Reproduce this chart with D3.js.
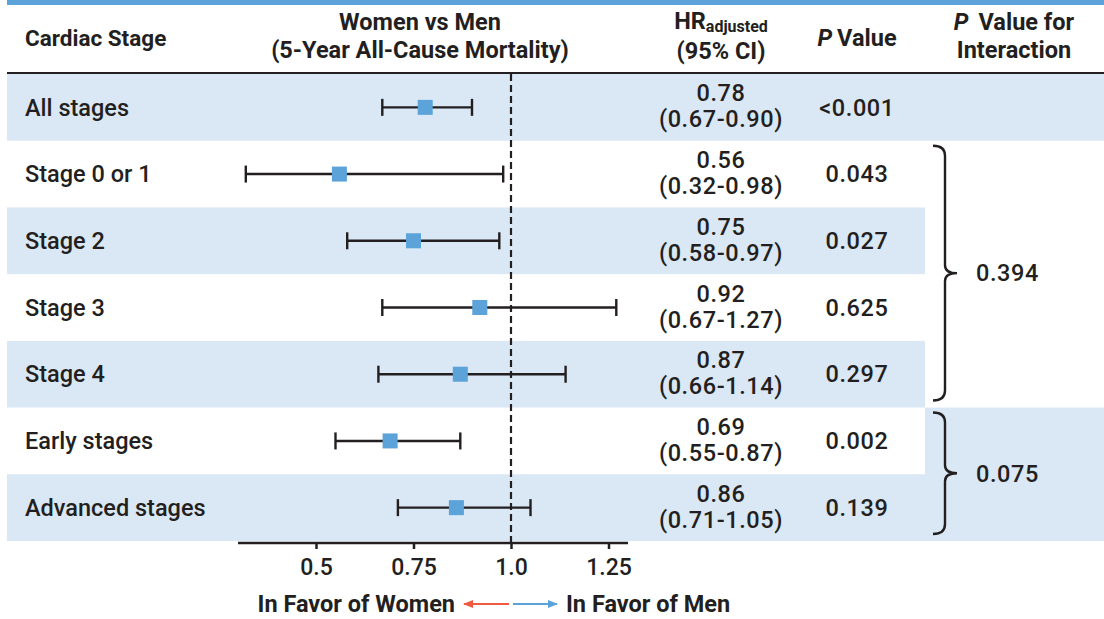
<!DOCTYPE html>
<html>
<head>
<meta charset="utf-8">
<script src="https://cdn.jsdelivr.net/npm/d3@7"></script>
<style>
  body { margin:0; background:#fff; }
  svg text { font-family: Roboto, "Noto Sans", sans-serif; fill:#231f20; }
</style>
</head>
<body>
<svg id="chart" width="1104" height="619"></svg>
<script>
// data
var stages = ["All stages","Stage 0 or 1","Stage 2","Stage 3","Stage 4","Early stages","Advanced stages"];
var hr     = [0.78, 0.56, 0.75, 0.92, 0.87, 0.69, 0.86];
var ciLow  = [0.67, 0.32, 0.58, 0.67, 0.66, 0.55, 0.71];
var ciHigh = [0.90, 0.98, 0.97, 1.27, 1.14, 0.87, 1.05];
var pValues = ["<0.001","0.043","0.027","0.625","0.297","0.002","0.139"];
var interactionP     = ["0.394","0.075"];
var interactionFirst = ["Stage 0 or 1","Early stages"];
var interactionLast  = ["Stage 4","Advanced stages"];
var xTicks = [0.5, 0.75, 1.0, 1.25];

var shade = "#dae7f4", blue = "#5ba3d9", ink = "#231f20";

var svg = d3.select("#chart");
var x = d3.scaleLinear().domain([0.3, 1.3]).range([238, 628]);
var y = d3.scaleBand().domain(stages).range([74, 541]);

// top blue rule
svg.append("rect").attr("x",7).attr("y",0).attr("width",1097).attr("height",5).attr("fill",blue);

// row shading
svg.selectAll("rect.band")
  .data(stages.filter(function(d,i){ return i%2==0; }))
  .enter().append("rect")
  .attr("class","band")
  .attr("x",7)
  .attr("y",function(d){ return y(d); })
  .attr("width",function(d){ return (d==stages[0] || d==stages[stages.length-1]) ? 1097 : 918; })
  .attr("height",y.bandwidth())
  .attr("fill",shade);
// shaded interaction cell for the early/advanced group
svg.append("rect")
  .attr("x",925).attr("y",y(interactionFirst[1]))
  .attr("width",179).attr("height",y(interactionLast[1])+y.bandwidth()-y(interactionFirst[1]))
  .attr("fill",shade);

// header
var hdr = svg.append("g").attr("font-weight","bold").attr("font-size",23.5);
hdr.append("text").attr("x",25).attr("y",46).attr("font-size",22.5).text("Cardiac Stage");
hdr.append("text").attr("x",420).attr("y",30).attr("text-anchor","middle").text("Women vs Men");
hdr.append("text").attr("x",420).attr("y",58).attr("text-anchor","middle").text("(5-Year All-Cause Mortality)");
var hrT = hdr.append("text").attr("x",721).attr("y",29).attr("text-anchor","middle");
hrT.append("tspan").text("HR");
hrT.append("tspan").attr("font-size",16).attr("dy",3).text("adjusted");
hdr.append("text").attr("x",721).attr("y",59).attr("text-anchor","middle").text("(95% CI)");
var pT = hdr.append("text").attr("x",857).attr("y",46).attr("text-anchor","middle");
pT.append("tspan").attr("font-style","italic").text("P");
pT.append("tspan").attr("dx",5).text("Value");
var piT = hdr.append("text").attr("x",1014).attr("y",30).attr("text-anchor","middle");
piT.append("tspan").attr("font-style","italic").text("P");
piT.append("tspan").attr("dx",10).text("Value for");
hdr.append("text").attr("x",1014).attr("y",58).attr("text-anchor","middle").text("Interaction");

svg.append("line").attr("x1",7).attr("x2",1104).attr("y1",73).attr("y2",73)
  .attr("stroke",ink).attr("stroke-width",2);

// row labels and numbers
var rows = svg.selectAll("g.row").data(stages).enter().append("g")
  .attr("class","row")
  .attr("transform",function(d){ return "translate(0,"+(y(d)+y.bandwidth()/2)+")"; })
  .attr("font-size",23.5).attr("font-weight",500);
rows.append("text").attr("x",25).attr("dy","0.35em").text(function(d){ return d; });
rows.append("text").attr("x",721).attr("y",-6).attr("text-anchor","middle").attr("letter-spacing",0.6)
  .text(function(d,i){ return hr[i].toFixed(2); });
rows.append("text").attr("x",721).attr("y",20).attr("text-anchor","middle").attr("letter-spacing",0.6)
  .text(function(d,i){ return "("+ciLow[i].toFixed(2)+"-"+ciHigh[i].toFixed(2)+")"; });
rows.append("text").attr("x",857).attr("dy","0.35em").attr("text-anchor","middle").attr("letter-spacing",0.6)
  .text(function(d,i){ return pValues[i]; });

// reference line at HR = 1
svg.append("line").attr("x1",x(1)).attr("x2",x(1)).attr("y1",74).attr("y2",543)
  .attr("stroke",ink).attr("stroke-width",2.2).attr("stroke-dasharray","7,4");

// CI whiskers
var capH = 8.5;
rows.append("line")
  .attr("x1",function(d,i){ return x(ciLow[i]); })
  .attr("x2",function(d,i){ return x(ciHigh[i]); })
  .attr("stroke",ink).attr("stroke-width",2.4);
rows.append("line")
  .attr("x1",function(d,i){ return x(ciLow[i]); })
  .attr("x2",function(d,i){ return x(ciLow[i]); })
  .attr("y1",-capH).attr("y2",capH)
  .attr("stroke",ink).attr("stroke-width",2.4);
rows.append("line")
  .attr("x1",function(d,i){ return x(ciHigh[i]); })
  .attr("x2",function(d,i){ return x(ciHigh[i]); })
  .attr("y1",-capH).attr("y2",capH)
  .attr("stroke",ink).attr("stroke-width",2.4);
rows.append("rect")
  .attr("x",function(d,i){ return x(hr[i])-7.5; })
  .attr("y",-7.5).attr("width",15).attr("height",15)
  .attr("fill",blue);

// interaction braces
function bracePath(y0, y1){
  var xm = 945, xl = 933, xt = 957, ym = (y0+y1)/2;
  return "M"+xl+","+y0+" Q"+xm+","+y0+" "+xm+","+(y0+10)+
    " L"+xm+","+(ym-8)+" Q"+xm+","+ym+" "+xt+","+ym+
    " Q"+xm+","+ym+" "+xm+","+(ym+8)+
    " L"+xm+","+(y1-10)+" Q"+xm+","+y1+" "+xl+","+y1;
}
interactionP.forEach(function(p,k){
  var y0 = y(interactionFirst[k])+5, y1 = y(interactionLast[k])+y.bandwidth()-7;
  svg.append("path").attr("d",bracePath(y0,y1))
    .attr("fill","none").attr("stroke",ink).attr("stroke-width",2.4);
  svg.append("text").attr("x",976).attr("y",(y0+y1)/2).attr("dy","0.35em").attr("letter-spacing",0.6)
    .attr("font-size",23.5).attr("font-weight",500).text(p);
});

// x axis
var axis = svg.append("g").attr("transform","translate(0,543)")
  .call(d3.axisBottom(x).tickValues(xTicks).tickSize(6).tickPadding(10)
    .tickFormat(function(d){ return d==1 ? "1.0" : String(d); }));
axis.select(".domain").attr("stroke",ink).attr("stroke-width",2.5).attr("d","M238,0H628");
axis.selectAll(".tick line").attr("stroke",ink).attr("stroke-width",2.5);
axis.selectAll(".tick text").attr("font-size",23).attr("fill",ink).attr("font-weight",500)
  .attr("font-family","Roboto, sans-serif");

// direction legend
var defs = svg.append("defs");
[["arrRed","#ef5a41"],["arrBlue",blue]].forEach(function(m){
  defs.append("marker").attr("id",m[0]).attr("viewBox","0 0 10 10")
    .attr("refX",9).attr("refY",5).attr("markerWidth",5).attr("markerHeight",5)
    .attr("orient","auto-start-reverse")
    .append("path").attr("d","M0,1L10,5L0,9z").attr("fill",m[1]);
});
svg.append("line").attr("x1",509).attr("x2",464).attr("y1",604).attr("y2",604)
  .attr("stroke","#ef5a41").attr("stroke-width",2).attr("marker-end","url(#arrRed)");
svg.append("line").attr("x1",513).attr("x2",557).attr("y1",604).attr("y2",604)
  .attr("stroke",blue).attr("stroke-width",2).attr("marker-end","url(#arrBlue)");
svg.append("text").attr("x",455).attr("y",604).attr("dy","0.35em").attr("text-anchor","end")
  .attr("font-weight","bold").attr("font-size",23.5).text("In Favor of Women");
svg.append("text").attr("x",566).attr("y",604).attr("dy","0.35em")
  .attr("font-weight","bold").attr("font-size",23.5).text("In Favor of Men");
</script>
</body>
</html>
